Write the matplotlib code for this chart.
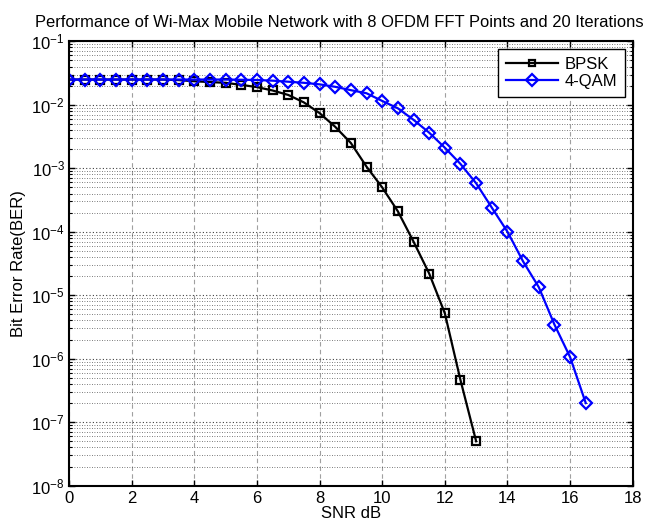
import numpy as np
import matplotlib
matplotlib.use('Agg')
import matplotlib.pyplot as plt
from matplotlib.ticker import LogLocator, MultipleLocator, NullFormatter

plt.rcParams['font.family'] = ['Liberation Sans', 'DejaVu Sans']
plt.rcParams['mathtext.fontset'] = 'custom'
plt.rcParams['mathtext.rm'] = 'Liberation Sans'

## Data
snr_bpsk = np.arange(0, 13.01, 0.5)
ber_bpsk = [0.025, 0.025, 0.025, 0.025, 0.025, 0.025, 0.025, 0.0245,
            0.0235, 0.0228, 0.0222, 0.0206, 0.019, 0.0168, 0.0143, 0.0109,
            0.0074, 0.0045, 0.0025, 0.00106, 5.0e-4, 2.1e-4, 7.0e-5, 2.2e-5,
            5.2e-6, 4.6e-7, 5.0e-8]

snr_qam = np.arange(0, 16.51, 0.5)
ber_qam = [0.025, 0.025, 0.025, 0.025, 0.025, 0.025, 0.025, 0.025,
           0.025, 0.025, 0.025, 0.0248, 0.0246, 0.024, 0.0231, 0.0222,
           0.021, 0.0192, 0.017, 0.0152, 0.0115, 0.0088, 0.0058, 0.00364,
           0.00211, 0.00117, 5.8e-4, 2.4e-4, 1.0e-4, 3.4e-5, 1.34e-5,
           3.45e-6, 1.06e-6, 2.0e-7]

title = 'Performance of Wi-Max Mobile Network with 8 OFDM FFT Points and 20 Iterations'

fig = plt.figure(figsize=(6.54, 5.25), dpi=100)
ax = fig.add_axes([0.1055, 0.0749, 0.862, 0.8464])

ax.semilogy(snr_bpsk, ber_bpsk, color='black', lw=1.6, marker='s', ms=5.5,
            mfc='none', mew=1.6, label='BPSK')
ax.semilogy(snr_qam, ber_qam, color='blue', lw=1.6, marker='D', ms=6,
            mfc='none', mew=1.6, label='4-QAM')

ax.set_xlim(0, 18)
ax.set_ylim(1e-8, 1e-1)
ax.xaxis.set_major_locator(MultipleLocator(2))
ax.yaxis.set_major_locator(LogLocator(base=10, numticks=20))
ax.yaxis.set_minor_locator(LogLocator(base=10, subs=np.arange(2, 10), numticks=20))
ax.yaxis.set_minor_formatter(NullFormatter())

ax.grid(True, which='major', axis='x', color='#a0a0a0', ls=(0, (4, 3)), lw=0.8)
ax.grid(True, which='major', axis='y', color='#404040', ls=(0, (1, 2)), lw=0.8)
ax.grid(True, which='minor', axis='y', color='#505050', ls=(0, (1, 2)), lw=0.6)

ax.tick_params(which='both', direction='in', top=True, right=True, labelsize=12)
ax.tick_params(which='major', length=4, width=1)
ax.tick_params(which='minor', length=2, width=0.8)
ax.tick_params(axis='x', pad=4)
ax.tick_params(axis='y', pad=3)
for s in ax.spines.values():
    s.set_linewidth(1.5)

# title sits a bit right of the figure centre, like the original
fig.text(339.5 / 654, 1 - 27 / 525, title, fontsize=11.9, ha='center', va='baseline')
ax.set_xlabel('SNR dB', fontsize=12, labelpad=0)
ax.set_ylabel('Bit Error Rate(BER)', fontsize=12, labelpad=4)

leg = ax.legend(loc='upper right', fontsize=12, fancybox=False, framealpha=1,
                edgecolor='black', borderaxespad=0.45, handlelength=3.15,
                handletextpad=0.35, borderpad=0.5, labelspacing=0.1)
leg.get_frame().set_linewidth(1)
leg.legend_handles[0].set_markersize(4)
leg.legend_handles[1].set_markersize(6.5)

fig.savefig('out.png', dpi=100)
plt.close()
